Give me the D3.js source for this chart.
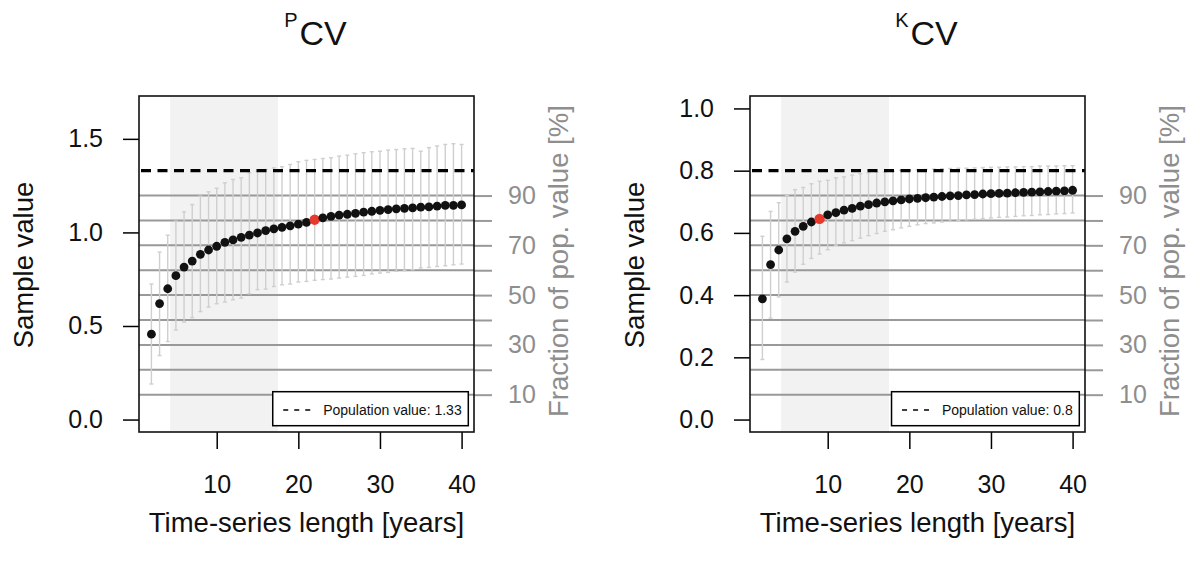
<!DOCTYPE html>
<html>
<head>
<meta charset="utf-8">
<script src="https://cdn.jsdelivr.net/npm/d3@7"></script>
<style>
  body { margin: 0; background: #fff; }
  svg { display: block; }
  text { font-family: "Liberation Sans", Arial, Helvetica, sans-serif; }
</style>
</head>
<body>
<svg id="chart" width="1190" height="567"></svg>
<script>
// years of the time series
var years = d3.range(2, 41);
var xTicks = [10, 20, 30, 40];
var pctTicks = [10, 20, 30, 40, 50, 60, 70, 80, 90];
var shadeRange = [4.3, 17.5];

// PCV panel
var pPop = 1.33;
var pYTicks = [0, 0.5, 1.0, 1.5];
var pMean = [0.456, 0.620, 0.699, 0.769, 0.815, 0.847, 0.883, 0.906, 0.926, 0.947,
  0.960, 0.974, 0.986, 0.997, 1.010, 1.019, 1.027, 1.035, 1.044, 1.054,
  1.068, 1.078, 1.086, 1.092, 1.097, 1.102, 1.108, 1.113, 1.118, 1.122,
  1.126, 1.129, 1.131, 1.135, 1.136, 1.140, 1.144, 1.145, 1.147];
var pLow = [0.190, 0.342, 0.417, 0.479, 0.521, 0.545, 0.577, 0.601, 0.619, 0.628,
  0.640, 0.649, 0.672, 0.694, 0.697, 0.711, 0.720, 0.724, 0.735, 0.738,
  0.744, 0.748, 0.751, 0.756, 0.761, 0.765, 0.770, 0.778, 0.783, 0.786,
  0.792, 0.795, 0.801, 0.810, 0.813, 0.818, 0.822, 0.827, 0.831];
var pHigh = [0.724, 0.895, 0.985, 1.060, 1.110, 1.149, 1.194, 1.217, 1.236, 1.265,
  1.283, 1.292, 1.319, 1.327, 1.336, 1.345, 1.351, 1.363, 1.378, 1.385,
  1.390, 1.395, 1.399, 1.408, 1.413, 1.420, 1.426, 1.431, 1.434, 1.440,
  1.443, 1.447, 1.449, 1.434, 1.453, 1.462, 1.470, 1.474, 1.470];
var pMark = 22;

// KCV panel
var kPop = 0.8;
var kYTicks = [0, 0.2, 0.4, 0.6, 0.8, 1.0];
var kMean = [0.388, 0.498, 0.545, 0.581, 0.605, 0.621, 0.635, 0.645, 0.658, 0.665,
  0.673, 0.679, 0.686, 0.691, 0.696, 0.700, 0.703, 0.706, 0.709, 0.711,
  0.713, 0.715, 0.717, 0.719, 0.720, 0.722, 0.723, 0.725, 0.726, 0.727,
  0.728, 0.729, 0.730, 0.731, 0.732, 0.733, 0.734, 0.735, 0.737];
var kLow = [0.193, 0.326, 0.394, 0.442, 0.474, 0.499, 0.518, 0.532, 0.546, 0.560,
  0.568, 0.575, 0.583, 0.591, 0.598, 0.605, 0.610, 0.616, 0.621, 0.626,
  0.630, 0.632, 0.635, 0.637, 0.640, 0.642, 0.644, 0.646, 0.648, 0.650,
  0.651, 0.653, 0.655, 0.656, 0.658, 0.659, 0.661, 0.662, 0.664];
var kHigh = [0.589, 0.669, 0.697, 0.720, 0.739, 0.746, 0.758, 0.766, 0.769, 0.777,
  0.780, 0.786, 0.790, 0.793, 0.795, 0.796, 0.798, 0.801, 0.802, 0.803,
  0.804, 0.805, 0.806, 0.807, 0.808, 0.808, 0.809, 0.810, 0.811, 0.811,
  0.812, 0.812, 0.813, 0.813, 0.815, 0.815, 0.815, 0.816, 0.816];
var kMark = 9;

var svg = d3.select("#chart");
var fontAxis = 25, fontLab = 27.5;
var grayLine = "#999999", grayText = "#8e8e8e";

drawPanel(139, "P", pPop, pYTicks, pMean, pLow, pHigh, pMark);
drawPanel(750, "K", kPop, kYTicks, kMean, kLow, kHigh, kMark);

function drawPanel(left, sup, pop, yTicks, mean, low, high, mark) {
  var w = 335, top = 96, bottom = 432, right = left + w;
  var g = svg.append("g");
  var ymax = 1.25 * pop, pad = 0.04 * ymax;

  var x = d3.scaleLinear().domain([2 - 38 * 0.04, 40 + 38 * 0.04]).range([left, right]);
  var y = d3.scaleLinear().domain([-pad, ymax + pad]).range([bottom, top]);

  var pts = years.map(function(d, i) {
    return {yr: d, m: mean[i], lo: low[i], hi: high[i]};
  });

  // shaded period
  g.append("rect")
    .attr("x", x(shadeRange[0])).attr("y", top)
    .attr("width", x(shadeRange[1]) - x(shadeRange[0]))
    .attr("height", bottom - top)
    .attr("fill", "#f2f2f2");

  // fraction-of-population lines
  g.selectAll("line.frac").data(pctTicks).enter().append("line")
    .attr("class", "frac")
    .attr("x1", left).attr("x2", right)
    .attr("y1", function(d) { return y(d / 100 * pop); })
    .attr("y2", function(d) { return y(d / 100 * pop); })
    .attr("stroke", grayLine).attr("stroke-width", 2);

  // error bars
  var eb = g.selectAll("g.eb").data(pts).enter().append("g").attr("class", "eb")
    .attr("stroke", "#cfcfcf").attr("stroke-width", 1.4);
  eb.append("line")
    .attr("x1", function(d) { return x(d.yr); }).attr("x2", function(d) { return x(d.yr); })
    .attr("y1", function(d) { return y(d.lo); }).attr("y2", function(d) { return y(d.hi); });
  eb.append("line")
    .attr("x1", function(d) { return x(d.yr) - 2; }).attr("x2", function(d) { return x(d.yr) + 2; })
    .attr("y1", function(d) { return y(d.lo); }).attr("y2", function(d) { return y(d.lo); });
  eb.append("line")
    .attr("x1", function(d) { return x(d.yr) - 2; }).attr("x2", function(d) { return x(d.yr) + 2; })
    .attr("y1", function(d) { return y(d.hi); }).attr("y2", function(d) { return y(d.hi); });

  // population value
  g.append("line")
    .attr("x1", left + 2).attr("x2", right)
    .attr("y1", y(pop)).attr("y2", y(pop))
    .attr("stroke", "#000").attr("stroke-width", 3.2)
    .attr("stroke-dasharray", "10,6.5");

  // points
  g.selectAll("circle").data(pts).enter().append("circle")
    .attr("cx", function(d) { return x(d.yr); })
    .attr("cy", function(d) { return y(d.m); })
    .attr("r", function(d) { return d.yr == mark ? 5.2 : 4.4; })
    .attr("fill", function(d) { return d.yr == mark ? "#e8392d" : "#111"; });

  // axes
  var ax = g.append("g").attr("transform", "translate(0," + bottom + ")")
    .call(d3.axisBottom(x).tickValues(xTicks).tickSize(17).tickPadding(26).tickSizeOuter(0));
  var ay = g.append("g").attr("transform", "translate(" + left + ",0)")
    .call(d3.axisLeft(y).tickValues(yTicks).tickSize(16).tickPadding(20)
      .tickFormat(d3.format(".1f")).tickSizeOuter(0));
  var ar = g.append("g").attr("transform", "translate(" + right + ",0)")
    .call(d3.axisRight(y).tickValues(pctTicks.map(function(d) { return d / 100 * pop; }))
      .tickSize(18).tickPadding(16).tickSizeOuter(0)
      .tickFormat(function(d, i) { return i % 2 == 0 ? pctTicks[i] : ""; }));
  [ax, ay, ar].forEach(function(a) {
    a.select(".domain").remove();
    a.attr("font-size", fontAxis).attr("font-family", null);
  });
  ax.selectAll(".tick line").attr("stroke", "#000").attr("stroke-width", 1.5);
  ay.selectAll(".tick line").attr("stroke", "#000").attr("stroke-width", 1.5);
  ax.selectAll(".tick text").attr("fill", "#111");
  ay.selectAll(".tick text").attr("fill", "#111");
  ar.selectAll(".tick line").attr("stroke", grayLine).attr("stroke-width", 2);
  ar.selectAll(".tick text").attr("fill", grayText);

  // legend
  var lg = g.append("g");
  var lbox = lg.append("rect").attr("fill", "#fff").attr("stroke", "#000").attr("stroke-width", 1.5);
  var ltext = lg.append("text")
    .attr("font-size", 14).attr("fill", "#111")
    .attr("y", 415)
    .text("Population value: " + pop);
  var tw = ltext.node().getComputedTextLength();
  var bx1 = right - 5.7, bx0 = bx1 - tw - 57;
  ltext.attr("x", bx1 - 6.6 - tw);
  lbox.attr("x", bx0).attr("y", 391.7).attr("width", bx1 - bx0).attr("height", 34);
  lg.append("line")
    .attr("x1", bx0 + 10.5).attr("x2", bx0 + 37.5)
    .attr("y1", 410).attr("y2", 410)
    .attr("stroke", "#000").attr("stroke-width", 1.6)
    .attr("stroke-dasharray", "5,6");

  // frame
  g.append("rect")
    .attr("x", left).attr("y", top).attr("width", w).attr("height", bottom - top)
    .attr("fill", "none").attr("stroke", "#111").attr("stroke-width", 1.6);

  // titles
  var mid = (left + right) / 2;
  var t = g.append("text").attr("x", mid + 9).attr("y", 45)
    .attr("text-anchor", "middle").attr("fill", "#111");
  t.append("tspan").attr("font-size", 20).attr("dy", -18).text(sup);
  t.append("tspan").attr("font-size", 34).attr("dy", 18).attr("dx", 2).text("CV");

  g.append("text")
    .attr("x", mid).attr("y", 532)
    .attr("text-anchor", "middle").attr("font-size", fontLab).attr("fill", "#111")
    .text("Time-series length [years]");

  g.append("text")
    .attr("transform", "translate(" + (left - 106) + ",265) rotate(-90)")
    .attr("text-anchor", "middle").attr("font-size", fontLab).attr("fill", "#111")
    .text("Sample value");

  g.append("text")
    .attr("transform", "translate(" + (right + 94) + ",417) rotate(-90)")
    .attr("text-anchor", "start").attr("font-size", fontLab).attr("fill", grayText)
    .text("Fraction of pop. value [%]");
}
</script>
</body>
</html>
